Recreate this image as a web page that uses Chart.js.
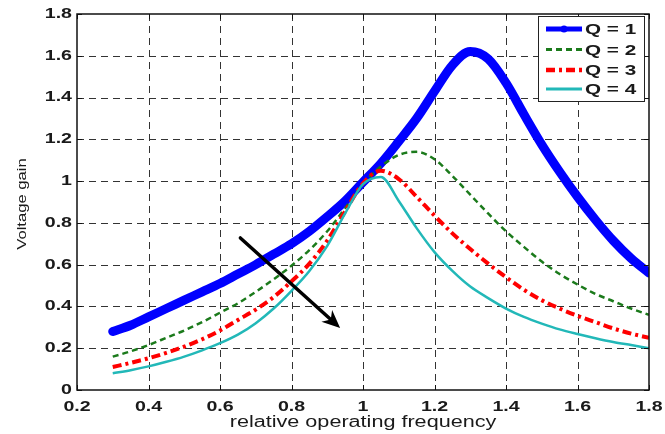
<!DOCTYPE html>
<html>
<head>
<meta charset="utf-8">
<title>Voltage gain</title>
<script src="https://cdn.jsdelivr.net/npm/chart.js@4/dist/chart.umd.min.js"></script>
<style>
  html, body { margin: 0; padding: 0; background: #fff; }
  #wrap { width: 665px; height: 434px; }
</style>
</head>
<body>
<div id="wrap"><canvas id="gainChart" width="665" height="434"></canvas></div>
<script>
// values
const freq = [0.30, 0.35, 0.40, 0.45, 0.50, 0.55, 0.60, 0.65, 0.70, 0.75, 0.80, 0.85, 0.90, 0.95, 1.00,
              1.05, 1.10, 1.15, 1.20, 1.25, 1.30, 1.35, 1.40, 1.45, 1.50, 1.55, 1.60, 1.65, 1.70, 1.75, 1.80];
const gainQ1 = [0.28, 0.31, 0.35, 0.39, 0.43, 0.47, 0.51, 0.555, 0.60, 0.65, 0.70, 0.76, 0.83, 0.905, 0.995,
                1.085, 1.19, 1.30, 1.43, 1.555, 1.62, 1.585, 1.47, 1.32, 1.175, 1.045, 0.925, 0.815, 0.715, 0.63, 0.56];
const gainQ2 = [0.16, 0.185, 0.215, 0.25, 0.285, 0.325, 0.37, 0.415, 0.47, 0.53, 0.595, 0.67, 0.76, 0.87, 0.985,
                1.07, 1.125, 1.14, 1.105, 1.025, 0.935, 0.845, 0.76, 0.685, 0.615, 0.555, 0.505, 0.46, 0.425, 0.39, 0.36];
const gainQ3 = [0.11, 0.13, 0.152, 0.178, 0.208, 0.243, 0.285, 0.335, 0.385, 0.445, 0.52, 0.605, 0.715, 0.855, 0.99,
                1.05, 1.01, 0.925, 0.835, 0.75, 0.675, 0.605, 0.54, 0.48, 0.43, 0.39, 0.355, 0.325, 0.295, 0.27, 0.25];
const gainQ4 = [0.08, 0.095, 0.113, 0.135, 0.16, 0.19, 0.224, 0.265, 0.32, 0.39, 0.475, 0.57, 0.69, 0.845, 0.985,
                1.02, 0.905, 0.775, 0.66, 0.57, 0.495, 0.44, 0.39, 0.35, 0.318, 0.29, 0.268, 0.248, 0.23, 0.215, 0.20];
const seriesLabels = ['Q = 1', 'Q = 2', 'Q = 3', 'Q = 4'];

const xTickValues = [0.2, 0.4, 0.6, 0.8, 1.0, 1.2, 1.4, 1.6, 1.8];
const xTickLabels = ['0.2', '0.4', '0.6', '0.8', '1', '1.2', '1.4', '1.6', '1.8'];
const yTickValues = [0, 0.2, 0.4, 0.6, 0.8, 1.0, 1.2, 1.4, 1.6, 1.8];
const yTickLabels = ['0', '0.2', '0.4', '0.6', '0.8', '1', '1.2', '1.4', '1.6', '1.8'];

// arrow showing increasing Q (data units)
const arrowFrom = [0.657, 0.728];
const arrowTo = [0.936, 0.297];

const toPoints = ys => ys.map((v, i) => ({ x: freq[i], y: v }));

// the reference text is stretched sideways, so draw it scaled
function wideText(ctx, text, x, y, sx, align) {
    ctx.save();
    ctx.translate(x, y);
    ctx.scale(sx, 1);
    ctx.textAlign = align;
    ctx.fillText(text, 0, 0);
    ctx.restore();
}

const matlabLook = {
    id: 'matlabLook',
    beforeDatasetsDraw(chart) {
        const { ctx, chartArea: a, scales: { x, y } } = chart;
        ctx.save();
        ctx.fillStyle = '#fff';
        ctx.fillRect(a.left, a.top, a.width, a.height);
        ctx.setLineDash([7, 5]);
        ctx.strokeStyle = '#333';
        ctx.lineWidth = 1;
        ctx.beginPath();
        xTickValues.slice(1, -1).forEach(v => {
            const px = Math.round(x.getPixelForValue(v)) + 0.5;
            ctx.moveTo(px, a.top);
            ctx.lineTo(px, a.bottom);
        });
        yTickValues.slice(1, -1).forEach(v => {
            const py = Math.round(y.getPixelForValue(v)) + 0.5;
            ctx.moveTo(a.left, py);
            ctx.lineTo(a.right, py);
        });
        ctx.stroke();
        ctx.restore();
    },
    afterDatasetsDraw(chart) {
        const { ctx, chartArea: a, scales: { x, y } } = chart;
        ctx.save();

        // arrow
        const x1 = x.getPixelForValue(arrowFrom[0]), y1 = y.getPixelForValue(arrowFrom[1]);
        const x2 = x.getPixelForValue(arrowTo[0]), y2 = y.getPixelForValue(arrowTo[1]);
        const ang = Math.atan2(y2 - y1, x2 - x1);
        const headLen = 18, headW = 8;
        ctx.strokeStyle = '#000';
        ctx.fillStyle = '#000';
        ctx.lineWidth = 3.5;
        ctx.lineCap = 'round';
        ctx.beginPath();
        ctx.moveTo(x1, y1);
        ctx.lineTo(x2 - Math.cos(ang) * headLen * 0.7, y2 - Math.sin(ang) * headLen * 0.7);
        ctx.stroke();
        ctx.beginPath();
        ctx.moveTo(x2, y2);
        ctx.lineTo(x2 - Math.cos(ang) * headLen + Math.sin(ang) * headW,
                   y2 - Math.sin(ang) * headLen - Math.cos(ang) * headW);
        ctx.lineTo(x2 - Math.cos(ang) * headLen * 0.7, y2 - Math.sin(ang) * headLen * 0.7);
        ctx.lineTo(x2 - Math.cos(ang) * headLen - Math.sin(ang) * headW,
                   y2 - Math.sin(ang) * headLen + Math.cos(ang) * headW);
        ctx.closePath();
        ctx.fill();

        // axes box and inward ticks
        ctx.lineCap = 'butt';
        ctx.lineWidth = 1.5;
        ctx.strokeStyle = '#111';
        ctx.strokeRect(a.left, a.top, a.width, a.height);
        ctx.lineWidth = 1;
        ctx.beginPath();
        xTickValues.forEach(v => {
            const px = Math.round(x.getPixelForValue(v)) + 0.5;
            ctx.moveTo(px, a.bottom); ctx.lineTo(px, a.bottom - 5);
            ctx.moveTo(px, a.top); ctx.lineTo(px, a.top + 5);
        });
        yTickValues.forEach(v => {
            const py = Math.round(y.getPixelForValue(v)) + 0.5;
            ctx.moveTo(a.left, py); ctx.lineTo(a.left + 5, py);
            ctx.moveTo(a.right, py); ctx.lineTo(a.right - 5, py);
        });
        ctx.stroke();

        // tick labels
        ctx.fillStyle = '#1a1a1a';
        ctx.font = 'bold 14px "Liberation Sans", Arial, sans-serif';
        ctx.textBaseline = 'middle';
        xTickValues.forEach((v, i) => {
            wideText(ctx, xTickLabels[i], x.getPixelForValue(v), a.bottom + 17, 1.4, 'center');
        });
        yTickValues.forEach((v, i) => {
            wideText(ctx, yTickLabels[i], a.left - 5, y.getPixelForValue(v), 1.4, 'right');
        });

        // axis titles
        ctx.font = '16px "Liberation Sans", Arial, sans-serif';
        ctx.textBaseline = 'alphabetic';
        wideText(ctx, 'relative operating frequency', (a.left + a.right) / 2, 427, 1.35, 'center');
        ctx.save();
        ctx.translate(26, 204);
        ctx.rotate(-Math.PI / 2);
        ctx.font = '13px "Liberation Sans", Arial, sans-serif';
        wideText(ctx, 'Voltage gain', 0, 0, 1.28, 'center');
        ctx.restore();

        // legend
        const lx = 538, ly = 16, lw = 106, lh = 85;
        ctx.fillStyle = '#fff';
        ctx.fillRect(lx, ly, lw, lh);
        ctx.strokeStyle = '#222';
        ctx.lineWidth = 1;
        ctx.strokeRect(lx + 0.5, ly + 0.5, lw, lh);
        const rowY = [29, 49.5, 70, 89];
        chart.data.datasets.forEach((ds, i) => {
            const ry = rowY[i];
            ctx.save();
            ctx.strokeStyle = ds.borderColor;
            ctx.lineWidth = i === 0 ? 5 : ds.borderWidth + 0.5;
            ctx.setLineDash(ds.borderDash || []);
            ctx.beginPath();
            ctx.moveTo(546, ry);
            ctx.lineTo(582, ry);
            ctx.stroke();
            if (i === 0) {
                ctx.fillStyle = ds.borderColor;
                ctx.beginPath();
                ctx.arc(564, ry, 3.5, 0, Math.PI * 2);
                ctx.fill();
            }
            ctx.restore();
            ctx.fillStyle = '#1a1a1a';
            ctx.font = 'bold 15px "Liberation Sans", Arial, sans-serif';
            ctx.textBaseline = 'middle';
            wideText(ctx, ds.label, 585, ry + 1, 1.38, 'left');
        });
        ctx.restore();
    }
};

new Chart(document.getElementById('gainChart'), {
    type: 'line',
    data: {
        datasets: [
            { label: seriesLabels[0], data: toPoints(gainQ1), borderColor: '#0000ff', borderWidth: 9, order: 4, borderCapStyle: 'round' },
            { label: seriesLabels[1], data: toPoints(gainQ2), borderColor: '#1b7a1b', borderWidth: 2.5, borderDash: [6, 4], order: 3 },
            { label: seriesLabels[2], data: toPoints(gainQ3), borderColor: '#ff0000', borderWidth: 4, borderDash: [9, 4, 3, 4], order: 2 },
            { label: seriesLabels[3], data: toPoints(gainQ4), borderColor: '#22b8b8', borderWidth: 2.5, order: 1 }
        ]
    },
    options: {
        responsive: false,
        animation: false,
        devicePixelRatio: 1,
        layout: { padding: { top: 14, right: 16, left: 0, bottom: 0 } },
        elements: {
            point: { radius: 0 },
            line: { cubicInterpolationMode: 'monotone', fill: false }
        },
        plugins: {
            legend: { display: false },
            tooltip: { enabled: false }
        },
        scales: {
            x: {
                type: 'linear',
                min: 0.2,
                max: 1.8,
                grid: { display: false },
                border: { display: false },
                ticks: { display: false },
                afterFit: scale => { scale.height = 44; }
            },
            y: {
                min: 0,
                max: 1.8,
                grid: { display: false },
                border: { display: false },
                ticks: { display: false },
                afterFit: scale => { scale.width = 77; }
            }
        }
    },
    plugins: [matlabLook]
});
</script>
</body>
</html>
